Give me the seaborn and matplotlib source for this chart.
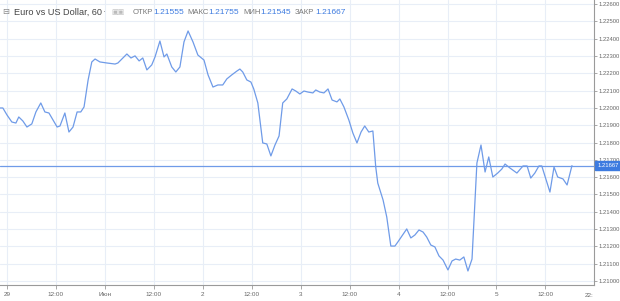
import matplotlib
matplotlib.use("Agg")
import matplotlib.pyplot as plt
import seaborn as sns
import pandas as pd

# hours since the "29" tick
hours = [-1.7, -1.0, 0.0, 1.2, 2.2, 2.9, 3.9, 4.9, 6.1, 7.1, 8.3, 9.3, 10.3, 11.3, 12.3, 13.0,
         14.2, 15.2, 16.2, 17.2, 18.1, 18.9, 19.9, 20.8, 21.6, 22.8, 24.5, 26.5, 27.2, 29.4,
         30.4, 31.4, 32.4, 33.3, 34.3, 35.5, 36.3, 37.5, 38.5, 39.2, 40.4, 41.4, 42.4, 43.4,
         44.4, 45.6, 46.8, 48.3, 49.3, 50.5, 51.7, 52.9, 53.9, 55.1, 56.4, 57.1, 57.8, 58.8,
         59.8, 60.5, 61.5, 62.7, 63.7, 64.7, 65.7, 66.7, 67.6, 68.6, 69.9, 70.8, 71.8, 72.8,
         73.8, 75.0, 75.7, 76.7, 77.7, 78.7, 79.7, 80.9, 81.6, 82.6, 83.8, 84.8, 85.8, 86.8,
         87.7, 88.7, 89.7, 90.4, 90.9, 92.2, 93.1, 94.1, 95.1, 95.8, 96.8, 98.0, 99.0, 100.0,
         101.0, 102.0, 102.9, 103.9, 104.9, 105.9, 106.9, 108.1, 109.1, 110.0, 111.0, 112.0,
         113.0, 114.0, 115.2, 116.2, 117.2, 118.1, 119.1, 120.3, 121.3, 122.1, 123.3, 125.0,
         126.5, 127.5, 128.4, 129.4, 130.4, 131.1, 133.1, 134.1, 135.0, 136.3, 137.3, 138.5]
prices = [1.22000, 1.22000, 1.21960, 1.21919, 1.21913, 1.21948, 1.21925, 1.21890, 1.21908,
          1.21977, 1.22029, 1.21977, 1.21971, 1.21931, 1.21890, 1.21896, 1.21971, 1.21861,
          1.21890, 1.21977, 1.21977, 1.22006, 1.22162, 1.22266, 1.22283, 1.22266, 1.22260,
          1.22254, 1.22260, 1.22312, 1.22289, 1.22301, 1.22272, 1.22289, 1.22220, 1.22249,
          1.22295, 1.22387, 1.22295, 1.22312, 1.22237, 1.22208, 1.22237, 1.22382, 1.22445,
          1.22382, 1.22306, 1.22277, 1.22191, 1.22121, 1.22133, 1.22133, 1.22168, 1.22191,
          1.22214, 1.22225, 1.22208, 1.22162, 1.22150, 1.22110, 1.22029, 1.21798, 1.21792,
          1.21723, 1.21786, 1.21838, 1.22029, 1.22052, 1.22110, 1.22098, 1.22081, 1.22098,
          1.22092, 1.22087, 1.22104, 1.22092, 1.22087, 1.22110, 1.22046, 1.22035, 1.22052,
          1.22006, 1.21931, 1.21855, 1.21798, 1.21861, 1.21896, 1.21861, 1.21867, 1.21659,
          1.21566, 1.21468, 1.21370, 1.21202, 1.21202, 1.21225, 1.21260, 1.21301, 1.21249,
          1.21266, 1.21295, 1.21283, 1.21254, 1.21208, 1.21197, 1.21145, 1.21121, 1.21064,
          1.21116, 1.21127, 1.21121, 1.21139, 1.21058, 1.21127, 1.21682, 1.21786, 1.21630,
          1.21717, 1.21601, 1.21624, 1.21647, 1.21676, 1.21653, 1.21624, 1.21665, 1.21665,
          1.21595, 1.21624, 1.21665, 1.21665, 1.21514, 1.21659, 1.21601, 1.21590, 1.21555,
          1.21667]

xtick_pos = [0, 12, 24, 36, 48, 60, 72, 84, 96, 108, 120, 132]
xtick_labels = ["29", "12:00", "Июн", "12:00", "2", "12:00", "3", "12:00", "4", "12:00", "5", "12:00"]
ytick_vals = [1.21000, 1.21100, 1.21200, 1.21300, 1.21400, 1.21500, 1.21600, 1.21700, 1.21800,
              1.21900, 1.22000, 1.22100, 1.22200, 1.22300, 1.22400, 1.22500, 1.22600]

title = "Euro vs US Dollar, 60"
ohlc_names = ["ОТКР", "МАКС", "МИН", "ЗАКР"]
ohlc_vals = ["1.21555", "1.21755", "1.21545", "1.21667"]
last_price = 1.21667

sns.set_theme(style="white")
NARROW = ['Liberation Sans Narrow', 'Liberation Sans', 'DejaVu Sans']
plt.rcParams['font.family'] = NARROW

df = pd.DataFrame({"h": hours, "p": prices})
LINE = "#6f9be8"
GRID = "#e8eef7"
AX = "#9a9a9a"
TXT = "#666666"
BLUE = "#3d7be0"

fig = plt.figure(figsize=(6.2, 3.01), dpi=100)
ax = fig.add_axes([0.0, 1 - 285 / 301, 594 / 620, 285 / 301])

sns.lineplot(data=df, x="h", y="p", ax=ax, color=LINE, linewidth=0.9)
ax.axhline(last_price, color=LINE, linewidth=0.9)

ax.set_xlim(-1.7, 143.9)
ax.set_ylim(1.20977, 1.22624)
ax.set_xticks(xtick_pos)
ax.set_xticklabels(xtick_labels)
ax.set_yticks(ytick_vals)
ax.set_yticklabels([f"{v:.5f}" for v in ytick_vals])
ax.yaxis.tick_right()
ax.grid(True, color=GRID, linewidth=0.8)
ax.set_xlabel("")
ax.set_ylabel("")
for s in ["top", "left"]:
    ax.spines[s].set_visible(False)
for s in ["right", "bottom"]:
    ax.spines[s].set_color(AX)
    ax.spines[s].set_linewidth(0.8)
ax.tick_params(axis="y", which="both", right=True, direction="out", length=2.5, width=0.6,
               color=AX, labelsize=4.2, labelcolor=TXT, pad=1)
ax.tick_params(axis="x", which="both", bottom=True, direction="out", length=3, width=0.6,
               color=AX, labelsize=4.6, labelcolor=TXT, pad=2)

# clipped last x label
ax.annotate("22:", xy=(1.0, 0), xycoords="axes fraction", xytext=(-7, -7.5),
            textcoords="offset points", fontsize=4.6, color=TXT, ha="left", va="center",
            annotation_clip=False)

# last price marker on axis
ax.annotate(f"{last_price:.5f}", xy=(1.0, last_price), xycoords=("axes fraction", "data"),
            xytext=(2.5, 0), textcoords="offset points", fontsize=4.2, color="white",
            ha="left", va="center", annotation_clip=False, zorder=10,
            bbox=dict(boxstyle="square,pad=0.35", fc=BLUE, ec=BLUE))

# header
HY = 1 - 12 / 301
HF = ['Liberation Sans', 'DejaVu Sans']
fig.text(2 / 620, HY, "⊟", fontsize=6, color="#888888", va="center", ha="left",
         family=['DejaVu Sans'])
fig.text(14 / 620, HY, title, fontsize=6.6, color="#444444", va="center", ha="left", family=HF)
fig.text(103 / 620, HY, "·", fontsize=6.5, color="#999999", va="center", ha="left", family=HF)
fig.text(111 / 620, HY, "▣▣", fontsize=5, color="#bbbbbb", va="center", ha="left",
         family=['DejaVu Sans'])
name_x = [133, 187, 243, 295]
val_x = [153, 208, 260, 315]
for name, val, nx, vx in zip(ohlc_names, ohlc_vals, name_x, val_x):
    fig.text(nx / 620, HY, name, fontsize=5.6, color="#777777", va="center", ha="left", family=NARROW)
    fig.text(vx / 620, HY, val, fontsize=6, color=BLUE, va="center", ha="left", family=HF)

fig.savefig("out.png", dpi=100)
